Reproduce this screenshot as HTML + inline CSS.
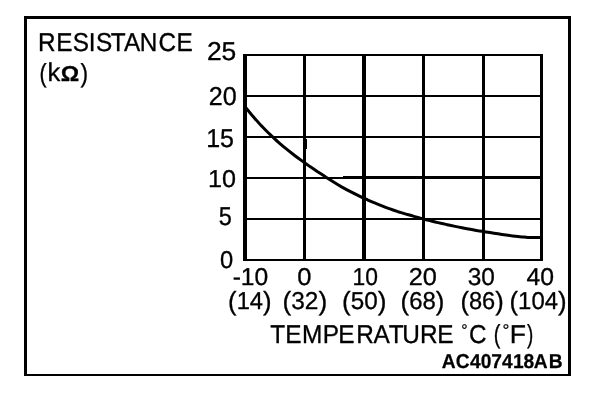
<!DOCTYPE html>
<html><head><meta charset="utf-8"><title>Resistance vs Temperature</title>
<style>
html,body{margin:0;padding:0;background:#fff;}
svg{display:block;will-change:transform}
svg text{font-family:"Liberation Sans", sans-serif;font-size:24px;fill:#000;stroke:#000;stroke-width:0.3px;stroke-linejoin:round;text-rendering:geometricPrecision;}
</style></head>
<body>
<svg width="608" height="400" viewBox="0 0 608 400">
<rect x="0" y="0" width="608" height="400" fill="#fff"/>
<g shape-rendering="crispEdges" fill="#000">
<!-- outer frame -->
<rect x="24" y="16" width="547" height="3"/>
<rect x="24" y="374" width="547" height="2"/>
<rect x="24" y="16" width="3" height="360"/>
<rect x="568" y="16" width="3" height="360"/>
<!-- grid verticals -->
<rect x="243" y="54" width="4" height="207"/>
<rect x="303" y="54" width="3" height="207"/>
<rect x="362" y="54" width="4" height="207"/>
<rect x="422" y="54" width="3" height="207"/>
<rect x="482" y="54" width="3" height="207"/>
<rect x="540" y="54" width="3" height="207"/>
<!-- grid horizontals -->
<rect x="243" y="54" width="300" height="2"/>
<rect x="243" y="95" width="300" height="2"/>
<rect x="243" y="136" width="300" height="2"/>
<rect x="243" y="177" width="300" height="2"/>
<rect x="343" y="176" width="200" height="1"/>
<rect x="243" y="218" width="300" height="2"/>
<rect x="243" y="259" width="300" height="2"/>
<!-- small artifact on the 0 line -->
<rect x="306" y="139" width="1" height="10"/>
</g>
<path d="M246.0,107.9 C247.3,109.5 251.3,114.5 254.0,117.5 C256.7,120.6 259.3,123.6 262.0,126.4 C264.7,129.2 267.3,131.9 270.0,134.4 C272.7,137.0 275.3,139.5 278.0,141.9 C280.7,144.2 283.3,146.5 286.0,148.7 C288.7,150.9 291.3,152.9 294.0,155.0 C296.7,157.0 299.3,158.9 302.0,160.9 C304.7,162.8 307.3,164.7 310.0,166.6 C312.7,168.4 315.3,170.2 318.0,172.0 C320.7,173.7 323.3,175.5 326.0,177.2 C328.7,178.9 331.3,180.6 334.0,182.3 C336.7,183.9 339.3,185.5 342.0,187.1 C344.7,188.6 347.3,190.0 350.0,191.4 C352.7,192.8 355.3,194.1 358.0,195.4 C360.7,196.7 363.3,198.0 366.0,199.2 C368.7,200.4 371.3,201.6 374.0,202.7 C376.7,203.8 379.3,204.9 382.0,205.9 C384.7,207.0 387.3,208.0 390.0,208.9 C392.7,209.9 395.3,210.8 398.0,211.7 C400.7,212.5 403.3,213.3 406.0,214.1 C408.7,214.9 411.3,215.7 414.0,216.4 C416.7,217.1 419.3,217.9 422.0,218.6 C424.7,219.3 427.3,220.0 430.0,220.6 C432.7,221.3 435.3,222.0 438.0,222.6 C440.7,223.2 443.3,223.8 446.0,224.4 C448.7,225.0 451.3,225.6 454.0,226.1 C456.7,226.7 459.3,227.2 462.0,227.7 C464.7,228.3 467.3,228.8 470.0,229.3 C472.7,229.8 475.3,230.2 478.0,230.7 C480.7,231.1 483.3,231.6 486.0,232.0 C488.7,232.4 491.3,232.8 494.0,233.2 C496.7,233.6 499.3,234.0 502.0,234.4 C504.7,234.8 507.3,235.2 510.0,235.6 C512.7,235.9 516.0,236.3 518.0,236.5 C520.0,236.7 520.3,236.7 522.0,236.9 C523.7,237.0 524.8,237.3 528.0,237.4 C531.2,237.5 538.8,237.4 541.0,237.4" fill="none" stroke="#000" stroke-width="3" stroke-linejoin="round"/>

<g>
<text transform="matrix(1.0148 0 0 1.0746 0 51.00)" x="37.57 55.41 71.68 87.58 94.59 109.08 122.20 137.79 156.28 173.96" font-weight="normal">RESISTANCE</text>
<text transform="matrix(0.8889 0 0 1.0857 39.39 82.00)" font-weight="normal">(</text>
<text transform="matrix(1.0667 0 0 1.0746 47.40 81.00)" font-weight="normal">k</text>
<text transform="matrix(0.9577 0 0 0.8955 60.78 81.00)" font-weight="bold">Ω</text>
<text transform="matrix(0.9481 0 0 1.0857 80.60 82.00)" font-weight="normal">)</text>
<text transform="matrix(1.1030 0 0 1.0746 206.90 60.00)" font-weight="normal">25</text>
<text transform="matrix(1.0480 0 0 1.0746 208.75 105.00)" font-weight="normal">20</text>
<text transform="matrix(1.0417 0 0 1.0746 206.18 147.00)" font-weight="normal">15</text>
<text transform="matrix(1.0474 0 0 1.0149 207.97 187.00)" font-weight="normal">10</text>
<text transform="matrix(0.9787 0 0 1.0746 218.77 225.00)" font-weight="normal">5</text>
<text transform="matrix(0.9872 0 0 1.0149 220.06 268.00)" font-weight="normal">0</text>
<text transform="matrix(1.0260 0 0 1.0149 232.67 285.00)" font-weight="normal">-10</text>
<text transform="matrix(1.0638 0 0 1.0149 297.20 285.00)" font-weight="normal">0</text>
<text transform="matrix(0.9526 0 0 1.0149 352.43 285.00)" font-weight="normal">10</text>
<text transform="matrix(1.0560 0 0 1.0149 408.64 285.00)" font-weight="normal">20</text>
<text transform="matrix(1.0178 0 0 1.0149 467.64 285.00)" font-weight="normal">30</text>
<text transform="matrix(1.0314 0 0 1.0149 526.48 285.00)" font-weight="normal">40</text>
<text transform="matrix(0.9902 0 0 1.0149 228.11 309.00)" font-weight="normal"><tspan font-size="25.9" dy="0.6">(</tspan><tspan font-size="24" dy="-0.6">14</tspan><tspan font-size="25.9" dy="0.6">)</tspan></text>
<text transform="matrix(1.0171 0 0 1.0149 282.47 309.00)" font-weight="normal"><tspan font-size="25.9" dy="0.6">(</tspan><tspan font-size="24" dy="-0.6">32</tspan><tspan font-size="25.9" dy="0.6">)</tspan></text>
<text transform="matrix(1.0122 0 0 1.0149 342.08 309.00)" font-weight="normal"><tspan font-size="25.9" dy="0.6">(</tspan><tspan font-size="24" dy="-0.6">50</tspan><tspan font-size="25.9" dy="0.6">)</tspan></text>
<text transform="matrix(0.9976 0 0 1.0149 400.60 309.00)" font-weight="normal"><tspan font-size="25.9" dy="0.6">(</tspan><tspan font-size="24" dy="-0.6">68</tspan><tspan font-size="25.9" dy="0.6">)</tspan></text>
<text transform="matrix(0.9854 0 0 1.0149 460.42 309.00)" font-weight="normal"><tspan font-size="25.9" dy="0.6">(</tspan><tspan font-size="24" dy="-0.6">86</tspan><tspan font-size="25.9" dy="0.6">)</tspan></text>
<text transform="matrix(0.9972 0 0 1.0149 509.50 309.00)" font-weight="normal"><tspan font-size="25.9" dy="0.6">(</tspan><tspan font-size="24" dy="-0.6">104</tspan><tspan font-size="25.9" dy="0.6">)</tspan></text>
<text transform="matrix(1.0165 0 0 1.0746 0 343.00)" x="265.99 280.58 297.20 317.47 332.71 350.52 367.42 382.46 395.77 413.28 430.10" font-weight="normal">TEMPERATURE</text>
<text transform="matrix(0.6571 0 0 0.7059 461.18 336.00)" font-weight="normal">°</text>
<text transform="matrix(1.0129 0 0 1.0746 469.09 343.00)" font-weight="normal">C</text>
<text transform="matrix(0.8296 0 0 1.0857 493.76 343.00)" font-weight="normal">(</text>
<text transform="matrix(0.7143 0 0 0.7059 502.61 336.00)" font-weight="normal">°</text>
<text transform="matrix(1.1083 0 0 1.0746 509.66 343.00)" font-weight="normal">F</text>
<text transform="matrix(0.7852 0 0 1.0857 527.00 343.00)" font-weight="normal">)</text>
<text transform="matrix(0.8000 0 0 0.8358 0 368.00)" x="552.12 569.75 587.38 600.88 614.00 627.38 641.38 654.50 667.12 686.00" font-weight="bold">AC407418AB</text>
</g>
</svg>
</body></html>
